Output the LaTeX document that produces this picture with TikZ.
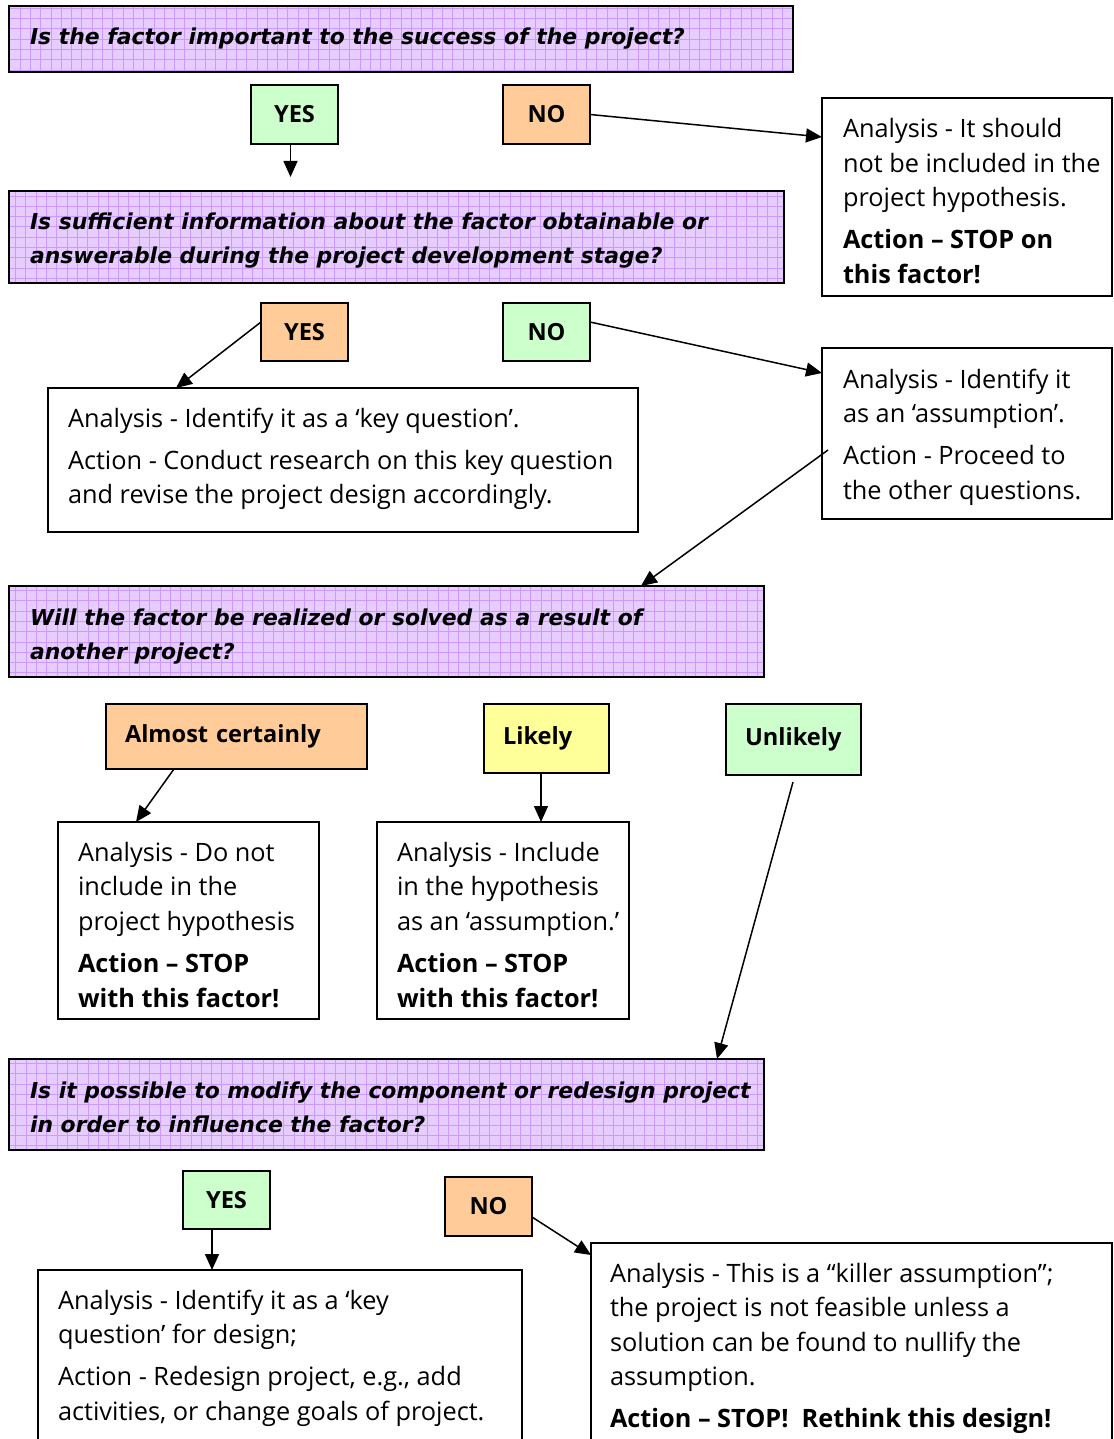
\documentclass[tikz,border=0pt]{standalone}
\usepackage{fontspec}
\setmainfont{Open Sans}
\newfontfamily\headfam{DejaVu Sans}
\usetikzlibrary{arrows.meta,calc}
\definecolor{qfill}{HTML}{E6CCFF}
\definecolor{qgridc}{HTML}{CC99FF}
\definecolor{yesgreen}{HTML}{CCFFCC}
\definecolor{noorange}{HTML}{FFCC99}
\definecolor{likelyyellow}{HTML}{FFFF99}
\newcommand{\bodyf}{\fontsize{25.3}{34.5}\selectfont}
\newcommand{\headf}{\headfam\fontsize{21.9}{34}\selectfont\bfseries\itshape}
\newcommand{\labf}{\fontsize{23.6}{30}\selectfont\bfseries}
\begin{document}
\begin{tikzpicture}[x=1pt,y=-1pt,
  frame/.style={draw=black, line width=1.5pt, inner sep=0pt, outer sep=0pt, anchor=north west},
  question/.style={frame, fill=qfill,
    path picture={\draw[qgridc, line width=0.5pt, step=10.3pt] (path picture bounding box.south west) grid (path picture bounding box.north east);}},
  answer/.style={frame, fill=white},
  lab/.style={frame, font=\labf},
  leftlab/.style={lab, inner xsep=19pt, align=left},
  txt/.style={anchor=north west, inner sep=0pt, outer sep=0pt, align=left, font=\bodyf, yshift=24.15pt},
  qtxt/.style={anchor=north west, inner sep=0pt, outer sep=0pt, align=left, font=\headf, yshift=23.8pt},
  conn/.style={line width=1.5pt, -{Triangle[length=16pt,width=14pt]}}
]
\clip (0,0) rectangle (1113,1439);
\fill[white] (0,0) rectangle (1113,1439);

% question boxes
\node[question, minimum width=784pt, minimum height=66pt] (q1) at (9,6) {};
\node[qtxt] (q1t) at (30,45) {\strut Is the factor important to the success of the project?};
\node[question, minimum width=775pt, minimum height=92pt] (q2) at (9,191) {};
\node[qtxt] (q2t) at (30,229) {\strut Is sufficient information about the factor obtainable or\\ answerable during the project development stage?};
\node[question, minimum width=755pt, minimum height=91pt] (q3) at (9,586) {};
\node[qtxt] (q3t) at (30,625) {\strut Will the factor be realized or solved as a result of\\ another project?};
\node[question, minimum width=755pt, minimum height=91pt] (q4) at (9,1059) {};
\node[qtxt] (q4t) at (30,1098) {\strut Is it possible to modify the component or redesign project\\ in order to influence the factor?};

% answer boxes
\node[answer, minimum width=290pt, minimum height=198pt] (a1) at (822,98) {};
\node[txt] (a1t) at (843,138) {\strut Analysis - It should\\ not be included in the\\ project hypothesis.\\[7.5pt] \textbf{Action – STOP on}\\ \textbf{this factor!}};
\node[answer, minimum width=590pt, minimum height=144pt] (b) at (48,388) {};
\node[txt] (bt) at (68,427) {\strut Analysis - Identify it as a ‘key question’.\\[7.5pt] Action - Conduct research on this key question\\ and revise the project design accordingly.};
\node[answer, minimum width=290pt, minimum height=171pt] (c) at (822,348) {};
\node[txt] (ct) at (843,388) {\strut Analysis - Identify it\\ as an ‘assumption’.\\[7.5pt] Action - Proceed to\\ the other questions.};
\node[answer, minimum width=261pt, minimum height=197pt] (d) at (58,822) {};
\node[txt] (dt) at (78,861) {\strut Analysis - Do not\\ include in the\\ project hypothesis\\[8pt] \textbf{Action – STOP}\\ \textbf{with this factor!}};
\node[answer, minimum width=252pt, minimum height=197pt] (e) at (377,822) {};
\node[txt] (et) at (397,861) {\strut Analysis - Include\\ in the hypothesis\\ as an ‘assumption.’\\[8pt] \textbf{Action – STOP}\\ \textbf{with this factor!}};
\node[answer, minimum width=484pt, minimum height=200pt] (f) at (38,1270) {};
\node[txt] (ft) at (58,1309) {\strut Analysis - Identify it as a ‘key\\ question’ for design;\\[7.5pt] Action - Redesign project, e.g., add\\ activities, or change goals of project.};
\node[answer, minimum width=521pt, minimum height=230pt] (g) at (591,1243) {};
\node[txt] (gt) at (610,1282) {\strut Analysis - This is a “killer assumption”;\\ the project is not feasible unless a\\ solution can be found to nullify the\\ assumption.\\[7.5pt] \textbf{Action – STOP!\ \ Rethink this design!}};

% label boxes
\node[lab, fill=yesgreen, minimum width=87pt, minimum height=59pt] (yes1) at (251,85) {YES};
\node[lab, fill=noorange, minimum width=87pt, minimum height=59pt] (no1) at (503,85) {NO};
\node[lab, fill=noorange, minimum width=87pt, minimum height=58pt] (yes2) at (261,303) {YES};
\node[lab, fill=yesgreen, minimum width=87pt, minimum height=58pt] (no2) at (503,303) {NO};
\node[leftlab, fill=noorange, text width=223pt, minimum height=65pt] (almost) at (106,704) {Almost certainly};
\node[leftlab, fill=likelyyellow, text width=87pt, minimum height=69pt] (likely) at (484,704) {Likely};
\node[leftlab, fill=yesgreen, text width=97pt, minimum height=71pt] (unlikely) at (726,704) {Unlikely};
\node[lab, fill=yesgreen, minimum width=87pt, minimum height=58pt] (yes3) at (183,1171) {YES};
\node[lab, fill=noorange, minimum width=87pt, minimum height=59pt] (no3) at (445,1177) {NO};

% connectors
\coordinate (y1end) at ($(yes1.south)+(-4,33)$);
\draw[conn] ($(yes1.south)+(-4,0)$) -- (y1end);
\draw[conn] (no1.east) -- ($(a1.north west)+(0,39)$);
\draw[conn] ($(yes2.north west)+(0,19)$) -- ($(b.north west)+(128,0)$);
\draw[conn] ($(no2.north east)+(0,19)$) -- ($(c.north west)+(0,25)$);
\draw[conn] ($(c.north west)+(6,102)$) -- ($(q3.north west)+(632,0)$);
\draw[conn] ($(almost.south west)+(68,0)$) -- ($(d.north west)+(78,0)$);
\draw[conn] ($(likely.south west)+(57,0)$) -- ($(e.north west)+(164,0)$);
\draw[conn] ($(unlikely.south west)+(67,7)$) -- ($(q4.north west)+(708,0)$);
\draw[conn] ($(yes3.south west)+(29,0)$) -- ($(f.north west)+(174,0)$);
\draw[conn] ($(no3.south east)+(0,-19)$) -- ($(g.north west)+(0,12)$);
\end{tikzpicture}
\end{document}
